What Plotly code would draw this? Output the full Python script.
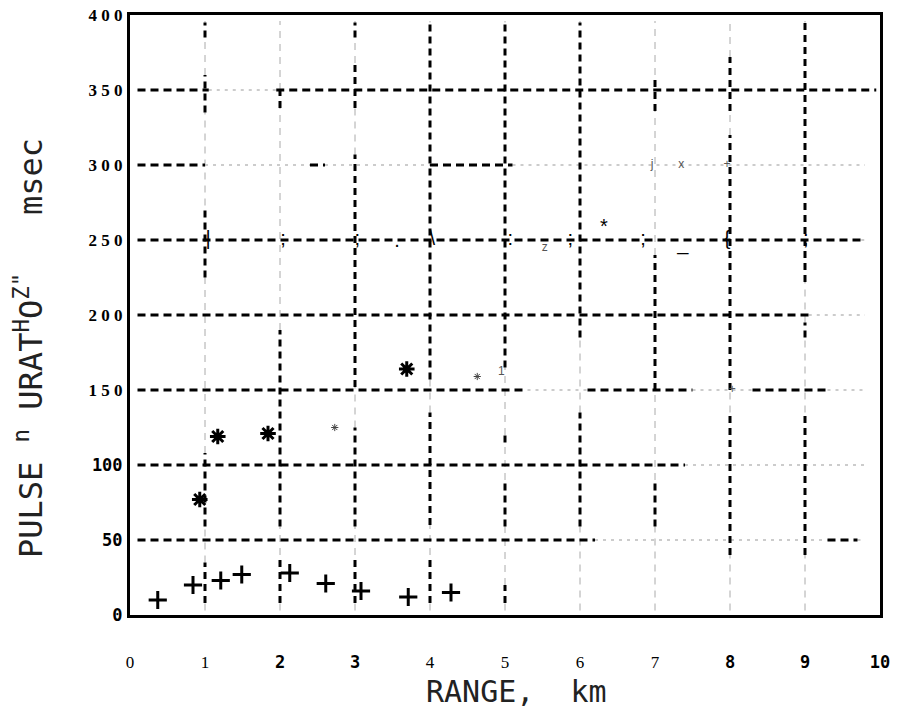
import plotly.graph_objects as go

# ---------------- data ----------------
plus_x = [0.37, 0.84, 1.21, 1.49, 2.13, 2.61, 3.08, 3.71, 4.28]
plus_y = [10, 20, 23, 27, 28, 21, 16, 12, 15]

star_x = [0.93, 1.17, 1.84, 3.69]
star_y = [77, 119, 121, 164]

small_star_x = [2.73, 4.63]
small_star_y = [125, 159]

# grid lines (horizontal at grid_y, vertical at grid_x) with their heavy-dashed stretches
grid_y = [50, 100, 150, 200, 250, 300, 350]
h_heavy = [
    [[0.1, 6.2], [9.3, 9.7]],
    [[0.1, 7.4]],
    [[0.1, 5.3], [6.1, 7.5], [8.3, 9.3]],
    [[0.1, 9.05]],
    [[0.1, 9.75]],
    [[0.1, 1.0], [2.4, 2.6], [4.0, 5.1]],
    [[0.1, 1.05], [1.95, 9.95]],
]
h_extent = [0.1, 9.8]

grid_x = [1, 2, 3, 4, 5, 6, 7, 8, 9]
v_heavy = [
    [[8, 35], [59, 108], [225, 273], [335, 360], [385, 395]],
    [[8, 40], [59, 190], [338, 350]],
    [[8, 40], [59, 125], [152, 307], [338, 368], [385, 395]],
    [[8, 40], [60, 135], [157, 395]],
    [[8, 20], [59, 90], [115, 120], [165, 395]],
    [[59, 135], [185, 395]],
    [[59, 90], [150, 240], [336, 360]],
    [[40, 135], [150, 320], [336, 372]],
    [[40, 135], [185, 195], [222, 395]],
]
v_extent = [3, 396]

# stray characters printed along the grid
mark_text = [";", ";", ".", "\\", ":", ";", ";", ";", "|", "{", "*", "_"]
mark_x = [2.04, 3.03, 3.56, 4.03, 5.07, 5.87, 6.84, 9.01, 1.04, 7.96, 6.32, 7.37]
mark_y = [250, 250, 249, 250, 250, 250, 250, 250, 250, 250, 258, 247]

faint_text = ["j", "x", "+", "z", "1", "+"]
faint_x = [6.96, 7.35, 7.96, 5.53, 4.95, 8.03]
faint_y = [300, 300, 300, 245, 162, 150]

x_tickvals = [0, 1, 2, 3, 4, 5, 6, 7, 8, 9, 10]
x_ticktext = ["0", "1", "2", "3", "4", "5", "6", "7", "8", "9", "10"]
x_tick_plotter = [False, False, True, True, False, False, False, False, True, True, True]
y_tickvals = [0, 50, 100, 150, 200, 250, 300, 350, 400]
y_ticktext = ["0", "50", "100", "1 5 0", "2 0 0", "2 5 0", "3 0 0", "3 5 0", "4 0 0"]
y_tick_plotter = [True, True, True, False, False, False, False, False, False]

x_title = "RANGE,  km"
y_title = 'PULSE <sup>n</sup> URAT<sup>H</sup>O<sup>Z"</sup>   msec'

# ---------------- helpers ----------------
def complement(ranges, lo, hi):
    out, cur = [], lo
    for a, b in sorted(ranges):
        if a > cur:
            out.append([cur, a])
        cur = max(cur, b)
    if cur < hi:
        out.append([cur, hi])
    return out

def segs_h(ys, rng_lists):
    xs, yy = [], []
    for y, rl in zip(ys, rng_lists):
        for a, b in rl:
            xs += [a, b, None]
            yy += [y, y, None]
    return xs, yy

def segs_v(xs_, rng_lists):
    xx, ys = [], []
    for x, rl in zip(xs_, rng_lists):
        for a, b in rl:
            xx += [x, x, None]
            ys += [a, b, None]
    return xx, ys

SERIF = "Liberation Serif"
MONO = "DejaVu Sans Mono"

def styled(labels, plotter, serif_bold):
    out = []
    for t, p in zip(labels, plotter):
        if p:
            out.append('<span style="font-family:\'DejaVu Sans Mono\';font-weight:bold">%s</span>' % t)
        else:
            out.append("<b>%s</b>" % t if serif_bold else t)
    return out

fig = go.Figure()

# light grid parts
hl = [complement(r, *h_extent) for r in h_heavy]
x1, y1 = segs_h(grid_y, hl)
fig.add_trace(go.Scatter(x=x1, y=y1, mode="lines", hoverinfo="skip",
                         line=dict(color="#999999", width=1, dash="3px,5px"), showlegend=False))
vl = [complement(r, *v_extent) for r in v_heavy]
x2, y2 = segs_v(grid_x, vl)
fig.add_trace(go.Scatter(x=x2, y=y2, mode="lines", hoverinfo="skip",
                         line=dict(color="#aaaaaa", width=1, dash="7px,6px"), showlegend=False))

# heavy grid parts
x3, y3 = segs_h(grid_y, h_heavy)
fig.add_trace(go.Scatter(x=x3, y=y3, mode="lines", hoverinfo="skip",
                         line=dict(color="black", width=3, dash="8px,5px"), showlegend=False))
x4, y4 = segs_v(grid_x, v_heavy)
fig.add_trace(go.Scatter(x=x4, y=y4, mode="lines", hoverinfo="skip",
                         line=dict(color="black", width=3, dash="7px,5px"), showlegend=False))

# stray characters
fig.add_trace(go.Scatter(x=mark_x, y=mark_y, mode="text", text=mark_text, hoverinfo="skip",
                         textfont=dict(family="Liberation Sans", size=20, color="black"),
                         showlegend=False))
fig.add_trace(go.Scatter(x=faint_x, y=faint_y, mode="text", text=faint_text, hoverinfo="skip",
                         textfont=dict(family="Liberation Sans", size=12, color="#555555"),
                         showlegend=False))

# data markers
fig.add_trace(go.Scatter(x=plus_x, y=plus_y, mode="markers", showlegend=False,
                         marker=dict(symbol="cross-thin-open", size=13, color="black",
                                     line=dict(color="black", width=3))))
fig.add_trace(go.Scatter(x=star_x, y=star_y, mode="markers", showlegend=False,
                         marker=dict(symbol="asterisk-open", size=13, color="black",
                                     line=dict(color="black", width=3))))
fig.add_trace(go.Scatter(x=small_star_x, y=small_star_y, mode="markers", showlegend=False,
                         marker=dict(symbol="asterisk-open", size=6, color="#444444",
                                     line=dict(color="#444444", width=1))))

fig.update_layout(
    width=900, height=710,
    margin=dict(l=130, r=20, t=15, b=95, autoexpand=False),
    paper_bgcolor="white", plot_bgcolor="white",
    xaxis=dict(range=[0, 10], showgrid=False, zeroline=False, showline=True, mirror=True,
               linecolor="black", linewidth=3, ticks="", tickvals=x_tickvals,
               ticktext=styled(x_ticktext, x_tick_plotter, False), ticklabelstandoff=30,
               automargin=False,
               tickfont=dict(family=SERIF, size=17, color="black")),
    yaxis=dict(range=[0, 400], showgrid=False, zeroline=False, showline=True, mirror=True,
               linecolor="black", linewidth=3, ticks="", tickvals=y_tickvals,
               ticktext=styled(y_ticktext, y_tick_plotter, True), ticklabelstandoff=1,
               automargin=False,
               tickfont=dict(family=SERIF, size=17, color="black")),
    annotations=[
        dict(text=x_title, xref="paper", yref="paper", x=(516 - 130) / 750, y=(615 - 691) / 600,
             showarrow=False, font=dict(family=MONO, size=30, color="#222222"),
             xanchor="center", yanchor="middle"),
        dict(text=y_title, xref="paper", yref="paper", x=(29 - 130) / 750, y=(615 - 348) / 600,
             showarrow=False, textangle=-90, font=dict(family=MONO, size=32, color="#222222"),
             xanchor="center", yanchor="middle"),
    ],
)

fig.write_html("out.html", config={"displayModeBar": False},
               post_script="document.body.style.margin='0';")
